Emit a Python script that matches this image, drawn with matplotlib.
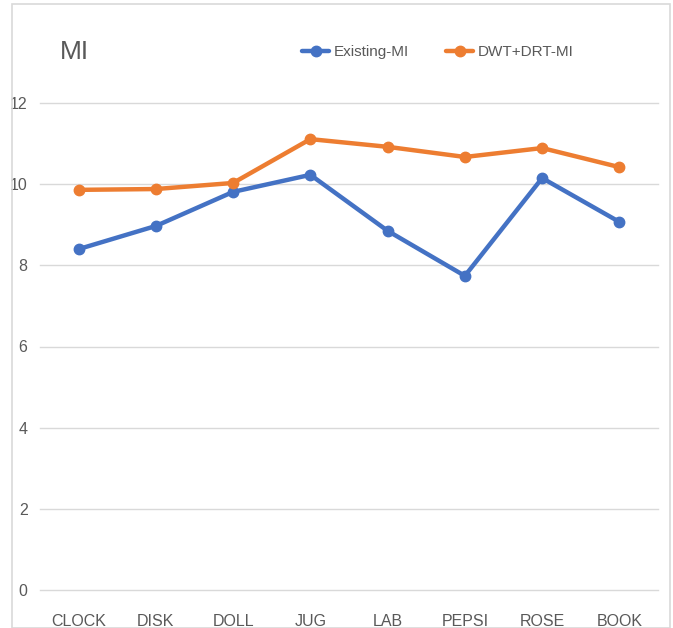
import matplotlib
matplotlib.use("Agg")
import matplotlib.pyplot as plt
from matplotlib.patches import Rectangle

# --- data ---
categories = ["CLOCK", "DISK", "DOLL", "JUG", "LAB", "PEPSI", "ROSE", "BOOK"]
existing_mi = [8.40, 8.97, 9.81, 10.23, 8.85, 7.74, 10.15, 9.07]
dwt_drt_mi = [9.86, 9.88, 10.03, 11.11, 10.92, 10.67, 10.89, 10.42]
y_ticks = [0, 2, 4, 6, 8, 10, 12]

BLUE = "#4472C4"
ORANGE = "#ED7D31"
TXT = "#595959"
FONT = ["Liberation Sans", "DejaVu Sans"]

plt.rcParams["font.family"] = FONT

W, H = 673, 628
fig = plt.figure(figsize=(W / 100, H / 100), dpi=100)
# light frame round the whole chart
fig.patches.append(Rectangle((12 / W, 0), (670 - 12) / W, (628 - 4) / H,
                             transform=fig.transFigure, fill=False,
                             edgecolor="#D9D9D9", linewidth=1.2))

ax = fig.add_axes([40 / W, (H - 590) / H, (658 - 40) / W, (590 - 103) / H])
x = list(range(len(categories)))
ax.plot(x, existing_mi, color=BLUE, lw=3.2, marker="o", ms=7.5,
        solid_capstyle="round", label="Existing-MI")
ax.plot(x, dwt_drt_mi, color=ORANGE, lw=3.2, marker="o", ms=7.5,
        solid_capstyle="round", label="DWT+DRT-MI")

ax.set_xlim(-0.5, len(categories) - 0.5)
ax.set_ylim(0, 12)
ax.set_yticks(y_ticks)
ax.set_xticks(x)
ax.set_xticklabels(categories)
ax.grid(axis="y", color="#D9D9D9", lw=1)
for gl in ax.get_ygridlines():
    gl.set_clip_on(False)
ax.set_axisbelow(True)
for s in ax.spines.values():
    s.set_visible(False)
ax.tick_params(length=0, labelsize=11.5, colors=TXT)
ax.tick_params(axis="y", pad=9)
ax.tick_params(axis="x", pad=17)

fig.text(60 / W, 1 - 52 / H, "MI", fontsize=19, color=TXT, va="center", ha="left")

leg = ax.legend(loc="center left", bbox_to_anchor=(288 / W, 1 - 52 / H),
                bbox_transform=fig.transFigure, ncol=2, frameon=False,
                fontsize=11, handlelength=1.8, handletextpad=0.3,
                columnspacing=2.4, labelcolor=TXT)

fig.savefig("out.png", dpi=100)
